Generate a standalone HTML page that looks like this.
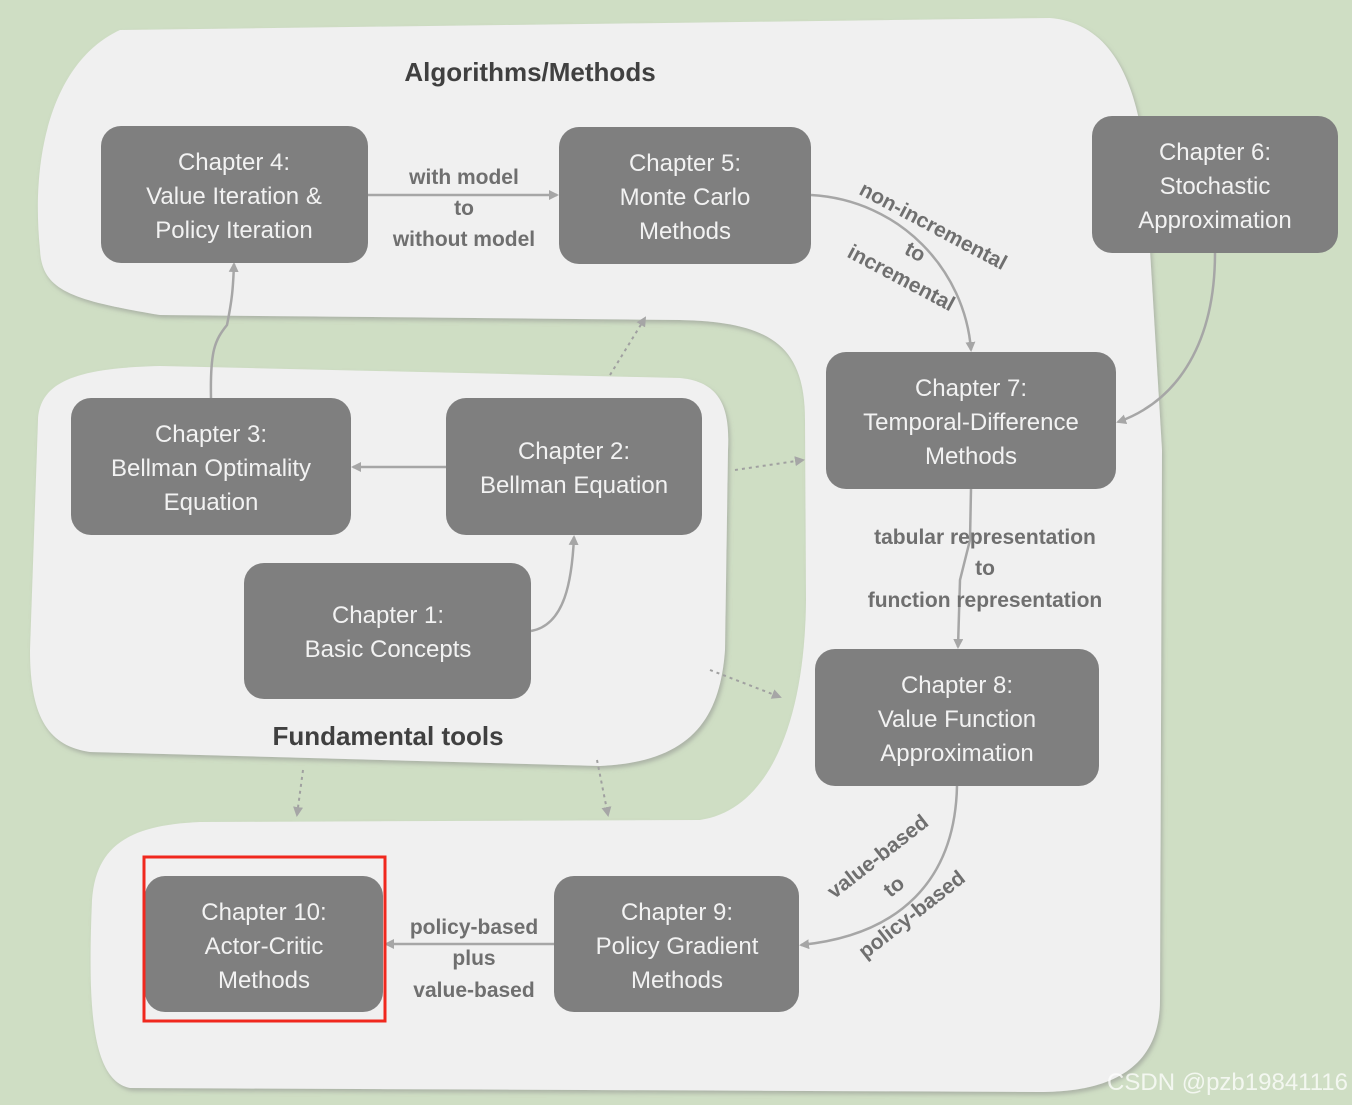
<!DOCTYPE html>
<html><head><meta charset="utf-8"><style>
html,body{margin:0;padding:0;background:#cfdec4;}
svg{display:block;}
.bx{fill:#7f7f7f;}
.t{font-family:"Liberation Sans",sans-serif;font-size:24px;fill:#f2f2f2;text-anchor:middle;}
.l{font-family:"Liberation Sans",sans-serif;font-size:21px;font-weight:bold;fill:#6f6f6f;text-anchor:middle;}
.h{font-family:"Liberation Sans",sans-serif;font-size:26px;font-weight:bold;fill:#404040;text-anchor:middle;}
.a{fill:none;stroke:#a6a6a6;stroke-width:2.5;}
.d{fill:none;stroke:#a0a0a0;stroke-width:2;stroke-dasharray:3 4;}
</style></head><body>
<svg width="1352" height="1105" viewBox="0 0 1352 1105">
<defs>
<marker id="m" markerWidth="10" markerHeight="10" refX="8" refY="5" orient="auto" markerUnits="userSpaceOnUse"><path d="M0,0 L10,5 L0,10 Z" fill="#a6a6a6"/></marker>
<filter id="s"><feDropShadow dx="2" dy="3" stdDeviation="2" flood-color="#888" flood-opacity="0.5"/></filter>
</defs>
<rect width="1352" height="1105" fill="#cfdec4"/>
<path filter="url(#s)" fill="#f0f0f0" d="M40,250 C30,150 55,60 120,30 L1050,18 C1130,25 1150,120 1150,250 L1162,450 L1160,1000 C1160,1075 1100,1092 1040,1092 L130,1088 C90,1080 88,1000 92,900 C96,845 130,825 200,822 L700,820 C770,810 805,720 806,600 L805,420 C805,345 770,322 680,320 L160,315 C70,300 42,290 40,250 Z"/>
<path filter="url(#s)" fill="#f0f0f0" d="M38,420 C40,380 80,368 160,366 L680,378 C722,382 730,410 728,450 L725,650 C720,720 690,762 600,766 L90,752 C50,746 30,720 30,650 Z"/>
<text class="h" x="530" y="81">Algorithms/Methods</text>
<text class="h" x="388" y="745">Fundamental tools</text>
<!-- dotted -->
<path class="d" d="M610,375 L645,318" marker-end="url(#m)"/>
<path class="d" d="M735,470 L803,460" marker-end="url(#m)"/>
<path class="d" d="M710,670 L780,697" marker-end="url(#m)"/>
<path class="d" d="M303,770 L297,815" marker-end="url(#m)"/>
<path class="d" d="M597,760 L608,815" marker-end="url(#m)"/>
<!-- arrows -->
<path class="a" d="M368,195 L557,195" marker-end="url(#m)"/>
<path class="a" d="M211,398 C210,350 215,340 227,325 C232,300 233,290 234,264" marker-end="url(#m)"/>
<path class="a" d="M446,467 L353,467" marker-end="url(#m)"/>
<path class="a" d="M531,631 C565,625 572,580 574,537" marker-end="url(#m)"/>
<path class="a" d="M811,195 C900,200 965,270 971,350" marker-end="url(#m)"/>
<path class="a" d="M1215,253 C1215,340 1180,400 1118,422" marker-end="url(#m)"/>
<path class="a" d="M971,489 L970,540 L960,580 L958,647" marker-end="url(#m)"/>
<path class="a" d="M957,786 C955,880 900,935 801,945" marker-end="url(#m)"/>
<path class="a" d="M554,944 L386,944" marker-end="url(#m)"/>
<!-- labels -->
<text class="l" x="464" y="184">with model</text>
<text class="l" x="464" y="215">to</text>
<text class="l" x="464" y="246">without model</text>
<g class="l"><text class="l" transform="translate(930,232) rotate(28)">non-incremental</text>
<text class="l" transform="translate(912,258) rotate(28)">to</text>
<text class="l" transform="translate(898,284) rotate(28)">incremental</text></g>
<text class="l" x="985" y="544">tabular representation</text>
<text class="l" x="985" y="575">to</text>
<text class="l" x="985" y="607">function representation</text>
<text class="l" transform="translate(882,862) rotate(-38)">value-based</text>
<text class="l" transform="translate(898,892) rotate(-38)">to</text>
<text class="l" transform="translate(916,920) rotate(-38)">policy-based</text>
<text class="l" x="474" y="934">policy-based</text>
<text class="l" x="474" y="965">plus</text>
<text class="l" x="474" y="997">value-based</text>
<!-- boxes -->
<rect class="bx" x="101" y="126" width="267" height="137" rx="20"/>
<text class="t" x="234" y="170">Chapter 4:</text><text class="t" x="234" y="204">Value Iteration &amp;</text><text class="t" x="234" y="238">Policy Iteration</text>
<rect class="bx" x="559" y="127" width="252" height="137" rx="20"/>
<text class="t" x="685" y="171">Chapter 5:</text><text class="t" x="685" y="205">Monte Carlo</text><text class="t" x="685" y="239">Methods</text>
<rect class="bx" x="1092" y="116" width="246" height="137" rx="20"/>
<text class="t" x="1215" y="160">Chapter 6:</text><text class="t" x="1215" y="194">Stochastic</text><text class="t" x="1215" y="228">Approximation</text>
<rect class="bx" x="71" y="398" width="280" height="137" rx="20"/>
<text class="t" x="211" y="442">Chapter 3:</text><text class="t" x="211" y="476">Bellman Optimality</text><text class="t" x="211" y="510">Equation</text>
<rect class="bx" x="446" y="398" width="256" height="137" rx="20"/>
<text class="t" x="574" y="459">Chapter 2:</text><text class="t" x="574" y="493">Bellman Equation</text>
<rect class="bx" x="244" y="563" width="287" height="136" rx="20"/>
<text class="t" x="388" y="623">Chapter 1:</text><text class="t" x="388" y="657">Basic Concepts</text>
<rect class="bx" x="826" y="352" width="290" height="137" rx="20"/>
<text class="t" x="971" y="396">Chapter 7:</text><text class="t" x="971" y="430">Temporal-Difference</text><text class="t" x="971" y="464">Methods</text>
<rect class="bx" x="815" y="649" width="284" height="137" rx="20"/>
<text class="t" x="957" y="693">Chapter 8:</text><text class="t" x="957" y="727">Value Function</text><text class="t" x="957" y="761">Approximation</text>
<rect class="bx" x="554" y="876" width="245" height="136" rx="20"/>
<text class="t" x="677" y="920">Chapter 9:</text><text class="t" x="677" y="954">Policy Gradient</text><text class="t" x="677" y="988">Methods</text>
<rect class="bx" x="145" y="876" width="238" height="136" rx="20"/>
<text class="t" x="264" y="920">Chapter 10:</text><text class="t" x="264" y="954">Actor-Critic</text><text class="t" x="264" y="988">Methods</text>
<rect x="144" y="857" width="241" height="164" fill="none" stroke="#f0281e" stroke-width="3"/>
<text x="1348" y="1090" font-family="Liberation Sans,sans-serif" font-size="24" fill="#ffffff" fill-opacity="0.75" text-anchor="end">CSDN @pzb19841116</text>
</svg>
</body></html>
